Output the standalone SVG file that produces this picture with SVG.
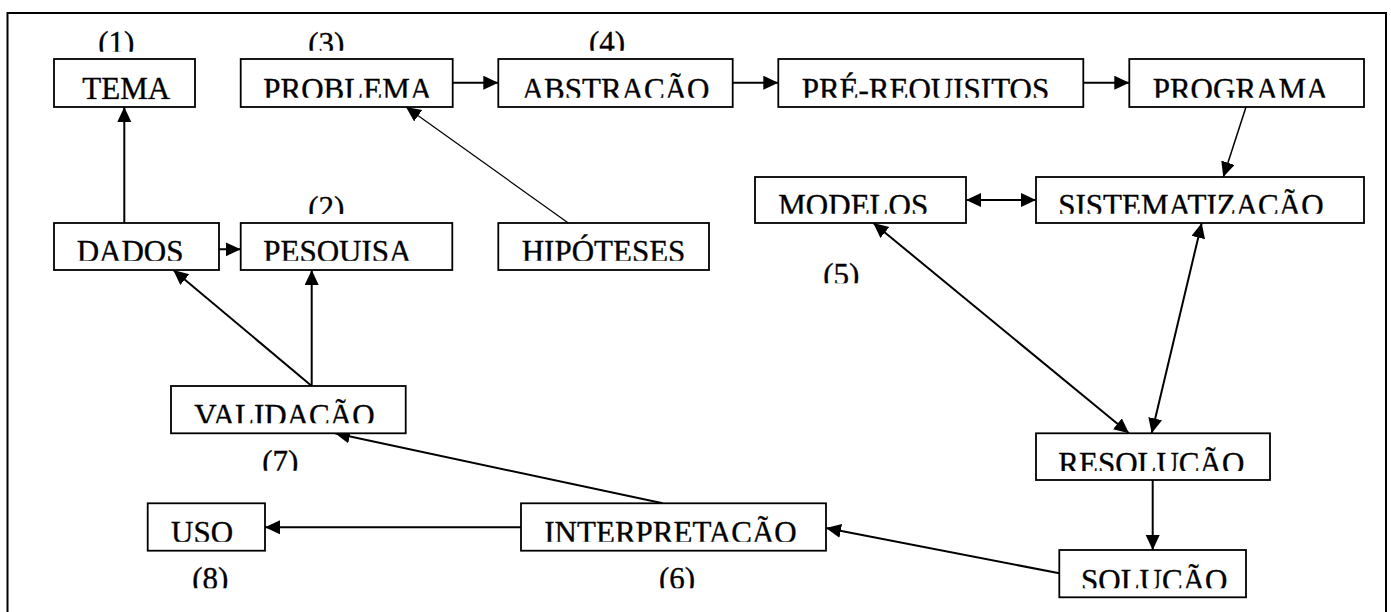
<svg xmlns="http://www.w3.org/2000/svg" width="1391" height="612" viewBox="0 0 1391 612">
<style>
  .box { fill: #fff; stroke: #000; stroke-width: 1.8; }
  .lbl { font-family: "Liberation Serif", "Times New Roman", serif; font-size: 31px; fill: #000; stroke: #000; stroke-width: 0.35; }
  .con { stroke: #000; stroke-width: 2; fill: none; }
  .thin { stroke-width: 1.2; }
  .mid { stroke-width: 1.5; }
  .ar { marker-end: url(#ah); }
  .ar2 { marker-start: url(#ah); marker-end: url(#ah); }
</style>
<defs>
  <marker id="ah" markerUnits="userSpaceOnUse" markerWidth="16" markerHeight="15" refX="15" refY="7" orient="auto-start-reverse">
    <path d="M0,0 L15,7 L0,14 z" fill="#000"/>
  </marker>
  <clipPath id="c1"><rect x="0" y="0" width="1391" height="51.7"/></clipPath>
  <clipPath id="c3"><rect x="0" y="0" width="1391" height="50.7"/></clipPath>
  <clipPath id="c2"><rect x="0" y="0" width="1391" height="214"/></clipPath>
  <clipPath id="c5"><rect x="0" y="0" width="1391" height="283.3"/></clipPath>
  <clipPath id="c7"><rect x="0" y="0" width="1391" height="470.7"/></clipPath>
  <clipPath id="c8"><rect x="0" y="0" width="1391" height="588.3"/></clipPath>
  <clipPath id="r1"><rect x="0" y="0" width="1391" height="99.5"/></clipPath>
  <clipPath id="r1b"><rect x="0" y="0" width="1391" height="97.7"/></clipPath>
  <clipPath id="r2"><rect x="0" y="0" width="1391" height="213.8"/></clipPath>
  <clipPath id="r3"><rect x="0" y="0" width="1391" height="260.7"/></clipPath>
  <clipPath id="r4"><rect x="0" y="0" width="1391" height="423.3"/></clipPath>
  <clipPath id="r5"><rect x="0" y="0" width="1391" height="471"/></clipPath>
  <clipPath id="r6"><rect x="0" y="0" width="1391" height="541.7"/></clipPath>
  <clipPath id="r7"><rect x="0" y="0" width="1391" height="588.3"/></clipPath>
</defs>
<rect x="0" y="0" width="1391" height="612" fill="#fff"/>
<path d="M7.5,625 V13 H1386 V625" fill="none" stroke="#000" stroke-width="2"/>

<g id="connectors">
  <line class="con ar" x1="124.3" y1="223" x2="124.3" y2="107"/>
  <line class="con ar" x1="452.7" y1="82.7" x2="498.3" y2="82.7"/>
  <line class="con ar" x1="732.7" y1="82.7" x2="778.3" y2="82.7"/>
  <line class="con ar" x1="1083.3" y1="82.7" x2="1129.3" y2="82.7"/>
  <line class="con thin ar" x1="568.3" y1="223" x2="406" y2="107"/>
  <line class="con mid ar" x1="1246" y1="107" x2="1223.3" y2="177"/>
  <line class="con ar2" x1="966" y1="200" x2="1036" y2="200"/>
  <line class="con ar" x1="194" y1="249.3" x2="240.7" y2="249.3"/>
  <line class="con ar" x1="311.7" y1="386" x2="173.3" y2="270"/>
  <line class="con ar" x1="311.7" y1="386" x2="311.7" y2="270"/>
  <line class="con ar2" x1="873.3" y1="223" x2="1129" y2="433.3"/>
  <line class="con ar2" x1="1201.7" y1="223" x2="1151.7" y2="433.3"/>
  <line class="con ar" x1="1152.7" y1="480" x2="1152.7" y2="550"/>
  <line class="con ar" x1="1059.3" y1="573.3" x2="826" y2="528"/>
  <line class="con ar" x1="521" y1="527.3" x2="265" y2="527.3"/>
  <line class="con ar" x1="662.7" y1="503.3" x2="335" y2="433.3"/>
</g>

<g id="tema"><rect class="box" x="54" y="59" width="141" height="48"/><text class="lbl" x="82.3" y="98.5" clip-path="url(#r1)">TEMA</text></g>
<g id="problema"><rect class="box" x="240.7" y="59" width="212" height="48"/><text class="lbl" x="263.3" y="99.5" clip-path="url(#r1b)">PROBLEMA</text></g>
<g id="abstracao"><rect class="box" x="498.3" y="59" width="234.4" height="48"/><text class="lbl" x="521.7" y="99.5" clip-path="url(#r1b)">ABSTRAÇÃO</text></g>
<g id="prerequisitos"><rect class="box" x="778.3" y="59" width="305" height="48"/><text class="lbl" x="801.7" y="99.5" clip-path="url(#r1b)">PRÉ-REQUISITOS</text></g>
<g id="programa"><rect class="box" x="1129.3" y="59" width="234.7" height="48"/><text class="lbl" x="1152.7" y="99.5" clip-path="url(#r1b)">PROGRAMA</text></g>
<g id="modelos"><rect class="box" x="755" y="177" width="211" height="46"/><text class="lbl" x="778.3" y="215.5" clip-path="url(#r2)">MODELOS</text></g>
<g id="sistematizacao"><rect class="box" x="1036" y="177" width="328" height="46"/><text class="lbl" x="1058.3" y="215.5" clip-path="url(#r2)">SISTEMATIZAÇÃO</text></g>
<g id="dados"><rect class="box" x="54" y="223" width="165" height="47"/><text class="lbl" x="76.7" y="262" clip-path="url(#r3)">DADOS</text></g>
<g id="pesquisa"><rect class="box" x="240.7" y="223" width="211.6" height="47"/><text class="lbl" x="263.3" y="262" clip-path="url(#r3)">PESQUISA</text></g>
<g id="hipoteses"><rect class="box" x="498.3" y="223" width="210.7" height="47"/><text class="lbl" x="521.7" y="261.5" clip-path="url(#r3)">HIPÓTESES</text></g>
<g id="validacao"><rect class="box" x="171" y="386" width="234.7" height="47.3"/><text class="lbl" x="194.3" y="425.5" clip-path="url(#r4)">VALIDAÇÃO</text></g>
<g id="resolucao"><rect class="box" x="1036" y="433.3" width="234" height="46.7"/><text class="lbl" x="1058.3" y="474" clip-path="url(#r5)">RESOLUÇÃO</text></g>
<g id="uso"><rect class="box" x="147.7" y="503.3" width="117.3" height="47.4"/><text class="lbl" x="171" y="543" clip-path="url(#r6)">USO</text></g>
<g id="interpretacao"><rect class="box" x="521" y="503.3" width="305" height="47.4"/><text class="lbl" x="544.3" y="543" clip-path="url(#r6)">INTERPRETAÇÃO</text></g>
<g id="solucao"><rect class="box" x="1059.3" y="550" width="186.7" height="47.3"/><text class="lbl" x="1081" y="590.5" clip-path="url(#r7)">SOLUÇÃO</text></g>

<g id="labels">
  <text class="lbl" x="98.3" y="53.2" clip-path="url(#c1)">(1)</text>
  <text class="lbl" x="308.3" y="54.2" clip-path="url(#c3)">(3)</text>
  <text class="lbl" x="589" y="52.5" clip-path="url(#c3)">(4)</text>
  <text class="lbl" x="308.3" y="218.2" clip-path="url(#c2)">(2)</text>
  <text class="lbl" x="823.3" y="284.8" clip-path="url(#c5)">(5)</text>
  <text class="lbl" x="262.3" y="471.5" clip-path="url(#c7)">(7)</text>
  <text class="lbl" x="192.3" y="589.2" clip-path="url(#c8)">(8)</text>
  <text class="lbl" x="659" y="589.2" clip-path="url(#c8)">(6)</text>
</g>
</svg>
